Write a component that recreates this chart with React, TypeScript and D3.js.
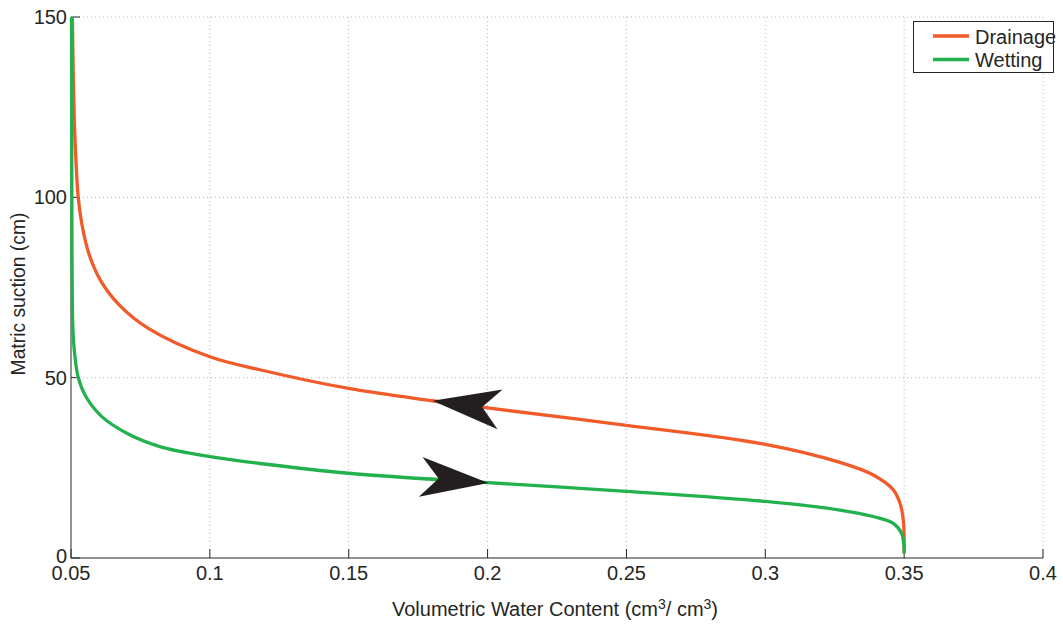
import * as d3 from "d3";
import React, { useEffect, useRef } from "react";

// curve readings (theta in cm3/cm3, suction in cm)
const drainage: [number, number][] = [
  [0.0505, 150], [0.0508, 135], [0.0512, 121], [0.0518, 110], [0.0526, 100],
  [0.0543, 91], [0.0566, 84], [0.0606, 77], [0.0676, 70], [0.078, 63.6],
  [0.1, 55.8], [0.118, 52.2], [0.15, 47.0], [0.18, 43.6], [0.2, 41.6],
  [0.25, 36.8], [0.3, 31.5], [0.3269, 26.5], [0.3389, 23.0], [0.3461, 18.9],
  [0.3485, 15.2], [0.3497, 10.5], [0.35, 1.3],
];

const wetting: [number, number][] = [
  [0.0502, 150], [0.0503, 100], [0.0504, 80], [0.0507, 63.2], [0.0514, 56],
  [0.0526, 50.1], [0.0554, 44.7], [0.0611, 39.2], [0.0701, 34.6], [0.082, 30.9],
  [0.1, 28.1], [0.118, 26.2], [0.15, 23.5], [0.2, 20.9], [0.25, 18.5],
  [0.3, 15.7], [0.3269, 13.3], [0.3389, 11.5], [0.3461, 9.6], [0.3491, 6.8],
  [0.3499, 3.6], [0.35, 1.3],
];

const xTicks = [0.05, 0.1, 0.15, 0.2, 0.25, 0.3, 0.35, 0.4];
const xTickLabels = ["0.05", "0.1", "0.15", "0.2", "0.25", "0.3", "0.35", "0.4"];
const yTicks = [0, 50, 100, 150];

// arrow annotations: tip and a point behind it (data coords)
const arrows = [
  { tip: [0.1802, 43.6], from: [0.2046, 41.2] },
  { tip: [0.2003, 20.8], from: [0.176, 22.5] },
];

const series = [
  { name: "Drainage", data: drainage, color: "#f15a29" },
  { name: "Wetting", data: wetting, color: "#22b14c" },
];

export default function App() {
  const svgRef = useRef<SVGSVGElement>(null);

  useEffect(() => {
    const W = 1063, H = 624;
    const margin = { top: 17, right: 20, bottom: 66, left: 71 };
    const svg = d3.select(svgRef.current).attr("width", W).attr("height", H);
    svg.selectAll("*").remove();

    const x = d3.scaleLinear().domain([0.05, 0.4]).range([margin.left, W - margin.right]);
    const y = d3.scaleLinear().domain([0, 150]).range([H - margin.bottom, margin.top]);
    const font = "'Liberation Sans', Arial, Helvetica, sans-serif";

    svg.append("rect").attr("width", W).attr("height", H).attr("fill", "#fff");

    // grid
    const grid = svg.append("g").attr("stroke", "#b4b4b4").attr("stroke-dasharray", "1,3").attr("stroke-width", 1);
    xTicks.slice(1).forEach((t) => {
      grid.append("line").attr("x1", x(t)).attr("x2", x(t)).attr("y1", y(0)).attr("y2", y(150));
    });
    yTicks.slice(1).forEach((t) => {
      grid.append("line").attr("x1", x(0.05)).attr("x2", x(0.4)).attr("y1", y(t)).attr("y2", y(t));
    });

    // axes
    const ax = svg.append("g").attr("stroke", "#262626").attr("stroke-width", 1);
    ax.append("line").attr("x1", x(0.05)).attr("x2", x(0.4)).attr("y1", y(0)).attr("y2", y(0));
    ax.append("line").attr("x1", x(0.05)).attr("x2", x(0.05)).attr("y1", y(0)).attr("y2", y(150));
    xTicks.forEach((t) => {
      ax.append("line").attr("x1", x(t)).attr("x2", x(t)).attr("y1", y(0)).attr("y2", y(0) - 9);
    });
    yTicks.forEach((t) => {
      ax.append("line").attr("x1", x(0.05)).attr("x2", x(0.05) + 9).attr("y1", y(t)).attr("y2", y(t));
    });

    xTicks.forEach((t, i) => {
      svg.append("text").attr("x", x(t)).attr("y", y(0) + 22)
        .attr("text-anchor", "middle").attr("font-family", font).attr("font-size", 20)
        .attr("fill", "#262626").text(xTickLabels[i]);
    });
    yTicks.forEach((t) => {
      svg.append("text").attr("x", x(0.05) - 4).attr("y", y(t) + (t === 0 ? 5 : 7))
        .attr("text-anchor", "end").attr("font-family", font).attr("font-size", 20)
        .attr("fill", "#262626").text(String(t));
    });

    // axis titles
    const xt = svg.append("text").attr("x", (x(0.05) + x(0.4)) / 2 - 2).attr("y", 616)
      .attr("text-anchor", "middle").attr("font-family", font).attr("font-size", 20).attr("fill", "#262626");
    xt.append("tspan").text("Volumetric Water Content (cm");
    xt.append("tspan").attr("font-size", 14).attr("dy", -7).text("3");
    xt.append("tspan").attr("dy", 7).text("/ cm");
    xt.append("tspan").attr("font-size", 14).attr("dy", -7).text("3");
    xt.append("tspan").attr("dy", 7).text(")");

    svg.append("text")
      .attr("transform", `translate(25,294) rotate(-90)`)
      .attr("text-anchor", "middle").attr("font-family", font).attr("font-size", 19.3)
      .attr("fill", "#262626").text("Matric suction (cm)");

    // curves
    const line = d3.line<[number, number]>()
      .x((d) => x(d[0])).y((d) => y(d[1]))
      .curve(d3.curveCatmullRom.alpha(0.5));
    series.forEach((s) => {
      svg.append("path").attr("d", line(s.data)).attr("fill", "none")
        .attr("stroke", s.color).attr("stroke-width", 3.3).attr("stroke-linejoin", "round");
    });

    // arrow heads
    arrows.forEach((a) => {
      const tx = x(a.tip[0]), ty = y(a.tip[1]);
      const fx = x(a.from[0]), fy = y(a.from[1]);
      const len = Math.hypot(fx - tx, fy - ty);
      const ux = (fx - tx) / len, uy = (fy - ty) / len;
      const nx = -uy, ny = ux;
      const L = 68, Wd = 20, N = 50;
      const pts = [
        [tx, ty],
        [tx + ux * L + nx * Wd, ty + uy * L + ny * Wd],
        [tx + ux * N, ty + uy * N],
        [tx + ux * L - nx * Wd, ty + uy * L - ny * Wd],
      ];
      svg.append("path").attr("d", "M" + pts.map((p) => p.join(",")).join("L") + "Z")
        .attr("fill", "#231f20");
    });

    // legend
    const lg = svg.append("g");
    lg.append("rect").attr("x", 913.5).attr("y", 21.5).attr("width", 140).attr("height", 51)
      .attr("fill", "#fff").attr("stroke", "#262626").attr("stroke-width", 1);
    series.forEach((s, i) => {
      const cy = 36 + i * 23.5;
      lg.append("line").attr("x1", 933).attr("x2", 969).attr("y1", cy).attr("y2", cy)
        .attr("stroke", s.color).attr("stroke-width", 3.3);
      lg.append("text").attr("x", 975).attr("y", cy + 7.5).attr("font-family", font)
        .attr("font-size", 20).attr("fill", "#262626").text(s.name);
    });
  }, []);

  return (
    <svg ref={svgRef} style={{ position: "absolute", left: 0, top: 0 }} />
  );
}
